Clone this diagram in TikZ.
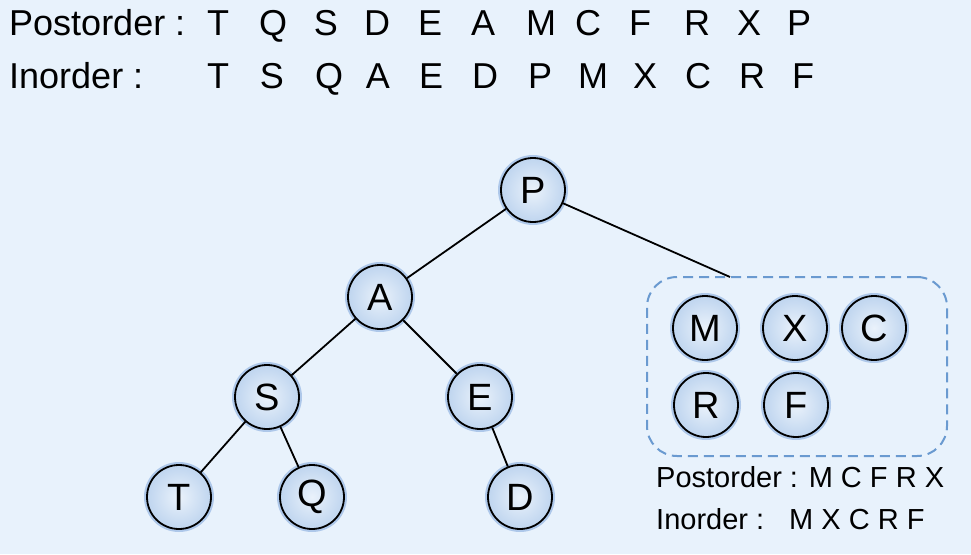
\documentclass[tikz,border=0pt]{standalone}
\usepackage{fontspec}
\setmainfont{Liberation Sans}
\begin{document}
\definecolor{bgblue}{HTML}{E8F2FC}
\definecolor{ballin}{HTML}{EAF2FB}
\definecolor{ballout}{HTML}{BFD5EF}
\definecolor{halo}{HTML}{7FA7DD}
\definecolor{boxline}{HTML}{6A9AD0}
\begin{tikzpicture}[x=1pt,y=-1pt,
  treenode/.style={circle,minimum size=64pt,inner sep=0pt,draw=black,line width=1.8pt,
    inner color=ballin,outer color=ballout,font=\fontsize{38}{38}\selectfont,
    preaction={draw=halo,line width=6pt,opacity=0.55}},
  edge/.style={draw=black,line width=1.8pt},
  bigtxt/.style={font=\fontsize{36}{36}\selectfont,inner sep=0pt},
  smalltxt/.style={font=\fontsize{29}{29}\selectfont,inner sep=0pt,anchor=base west}]
\fill[bgblue] (0,0) rectangle (971,554);
\useasboundingbox (0,0) rectangle (971,554);

% traversal sequences of the whole tree
\node[bigtxt,anchor=base west] (post) at (9,35) {Postorder :};
\node[bigtxt,anchor=base west] (in) at (9,88) {Inorder :};
\foreach \ch/\x [count=\i] in {T/218,Q/273,S/326,D/377,E/430,A/483,M/541,C/588,F/640,R/697,X/749,P/799}
  \node[bigtxt,anchor=base] (p\i) at (\x,35) {\ch};
\foreach \ch/\x [count=\i] in {T/218,S/272,Q/329,A/378,E/431,D/485,P/540,M/593,X/645,C/698,R/752,F/803}
  \node[bigtxt,anchor=base] (i\i) at (\x,88) {\ch};

% subtree still to be resolved
\node[draw=boxline,dashed,dash pattern=on 10pt off 6pt,line width=2pt,rounded corners=30pt,
  minimum width=300pt,minimum height=179pt,inner sep=0pt] (box) at (797,366.5) {};
\coordinate (boxtop) at (730,277);

% tree nodes
\node[treenode] (P) at (533,190) {P};
\node[treenode] (A) at (380,297) {A};
\node[treenode] (S) at (267,397) {S};
\node[treenode] (E) at (480,397) {E};
\node[treenode] (T) at (179,497) {T};
\node[treenode] (Q) at (312,497) {Q};
\node[treenode] (D) at (520,497) {D};

\node[treenode] (M) at (705,328) {M};
\node[treenode] (X) at (795,328) {X};
\node[treenode] (C) at (874,328) {C};
\node[treenode] (R) at (706,405) {R};
\node[treenode] (F) at (796,405) {F};

% tree edges, drawn between node borders
\draw[edge] (P) -- (boxtop);
\draw[edge] (P) -- (A);
\draw[edge] (A) -- (S);
\draw[edge] (A) -- (E);
\draw[edge] (S) -- (T);
\draw[edge] (S) -- (Q);
\draw[edge] (E) -- (D);

% traversal sequences of the subtree
\node[smalltxt] (spost) at (656,487) {Postorder : M C F R X};
\node[smalltxt] (sin) at (656,529) {Inorder :};
\node[smalltxt] (sinseq) at (789,529) {M X C R F};
\end{tikzpicture}
\end{document}
